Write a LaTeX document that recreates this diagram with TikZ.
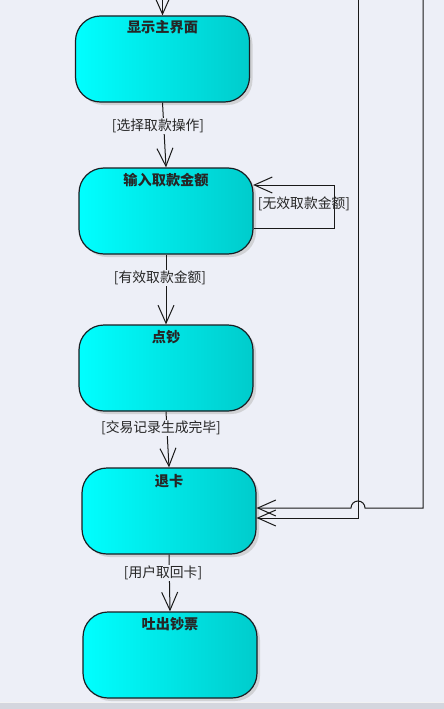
\documentclass[tikz,border=0pt]{standalone}
\usepackage{fontspec}
\setmainfont{Noto Sans CJK SC}
\usetikzlibrary{arrows.meta,shadows,calc}
\definecolor{bgc}{RGB}{237,239,247}
\definecolor{bandc}{RGB}{212,214,222}
\definecolor{cyanL}{RGB}{0,255,255}
\definecolor{cyanR}{RGB}{0,204,204}
\definecolor{edgec}{RGB}{25,30,35}
\tikzset{
  state/.style={draw=edgec, line width=1.2pt, rounded corners=25pt,
    minimum width=174pt, minimum height=86pt, inner sep=0pt,
    left color=cyanL, right color=cyanR,
    drop shadow={shadow xshift=3pt, shadow yshift=-3pt, fill=black!25, opacity=0.6}},
  title/.style={font=\bfseries\fontsize{14.2}{14.2}\selectfont, text=black!85, inner sep=0pt},
  guard/.style={font=\fontsize{13.8}{13.8}\selectfont, fill=bgc, inner sep=1pt, text=black!85},
  flow/.style={draw=black!90, line width=1pt, -{Straight Barb[length=18pt,width=16pt,line width=1pt]}},
}
\begin{document}
\begin{tikzpicture}[x=1pt,y=-1pt]
\useasboundingbox (0,0) rectangle (444,709);
\fill[bgc] (0,0) rectangle (444,709);
\fill[bandc] (0,702) rectangle (444,709);
\draw[white!90!gray, line width=0.6pt] (0,702) -- (444,702);

\node[state] (b1) at (162.5,59) {};
\node[state] (b2) at (166,211) {};
\node[state] (b3) at (166,368) {};
\node[state] (b4) at (169,511) {};
\node[state] (b5) at (170,655) {};

\node[title] (t1) at ($(b1.north)+(0,12)$) {显示主界面};
\node[title] (t2) at ($(b2.north)+(0,13)$) {输入取款金额};
\node[title] (t3) at ($(b3.north)+(0,13)$) {点钞};
\node[title] (t4) at ($(b4.north)+(0,14)$) {退卡};
\node[title] (t5) at ($(b5.north)+(0,13)$) {吐出钞票};

\coordinate (top0) at (162.5,0);
\draw[flow] (top0) -- (b1.north);

\draw[flow] (b1.south) -- (b2.north);
\draw[flow] (b2.south) -- (b3.north);
\draw[flow] (b3.south) -- (b4.north);
\draw[flow] (b4.south) -- (b5.north);

\node[guard] (g1) at (158,126) {[选择取款操作]};
\node[guard] (g2) at (160,278) {[有效取款金额]};
\node[guard] (g3) at (161,428) {[交易记录生成完毕]};
\node[guard] (g4) at (163,573) {[用户取回卡]};

% self loop on b2
\coordinate (l0) at ($(b2.east)+(0,17)$);
\coordinate (l1) at (334,228);
\coordinate (l2) at (334,185);
\coordinate (l3) at ($(b2.east)+(-0.5,-26)$);
\draw[flow] (l0) -- (l1) -- (l2) -- (l3);
\node[font=\fontsize{13.8}{13.8}\selectfont, text=black!85, inner sep=0pt] (g5) at (304,204) {[无效取款金额]};

% long lines into b4
\coordinate (a0) at (358,0);
\coordinate (a1) at (358,518);
\coordinate (a2) at ($(b4.east)+(0,7)$);
\draw[flow] (a0) -- (a1) -- (a2);
\coordinate (c0) at (423,0);
\coordinate (c1) at (423,508);
\coordinate (c2) at ($(b4.east)+(0,-3)$);
\draw[flow] (c0) -- (c1) -- (365,508) arc[start angle=0, end angle=-180, radius=7] -- (c2);
\end{tikzpicture}
\end{document}
